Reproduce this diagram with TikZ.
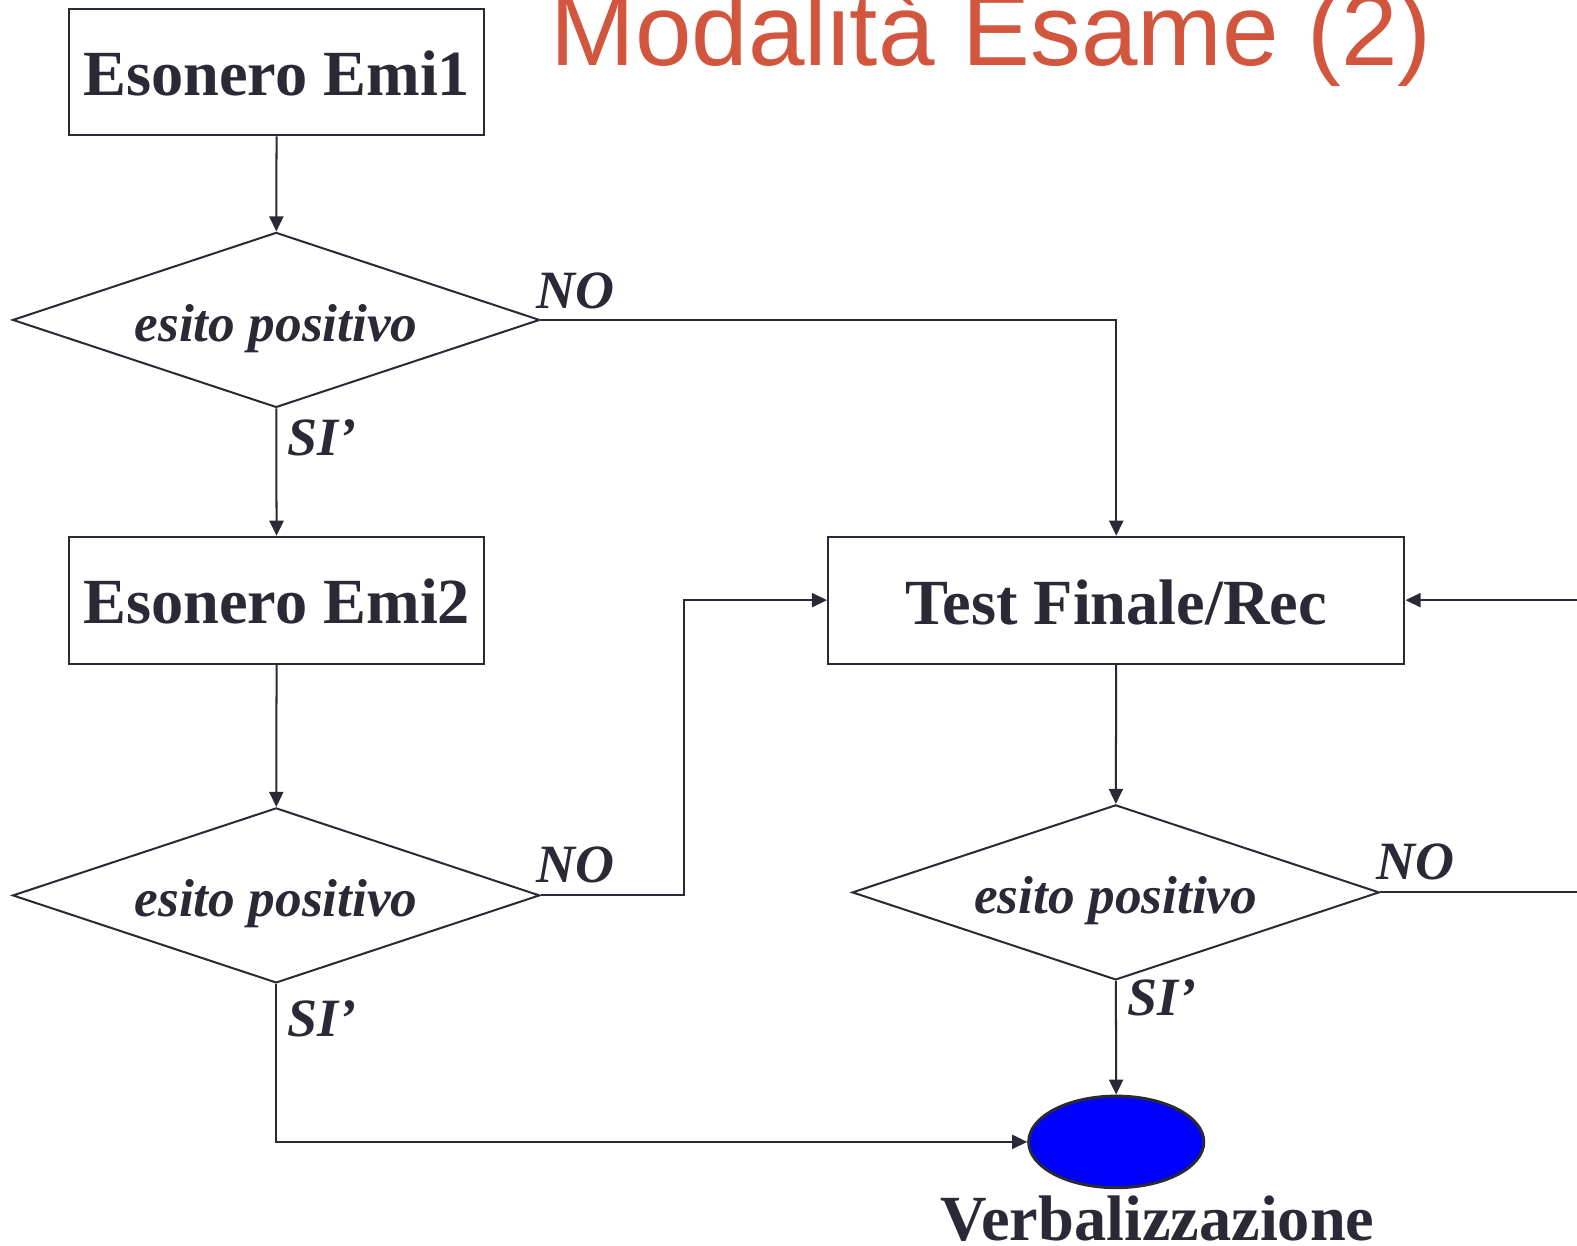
\documentclass[tikz,border=0pt]{standalone}
\usepackage{fontspec}
\setmainfont{Liberation Serif}
\newfontfamily\titlefont{Liberation Sans}
\usetikzlibrary{shapes.geometric,arrows.meta}
\definecolor{ink}{RGB}{42,42,54}
\definecolor{titlered}{RGB}{210,85,62}
\definecolor{dotblue}{RGB}{0,0,255}
\tikzset{
  procbox/.style={draw=ink, line width=1pt, minimum width=206pt, minimum height=63pt, inner sep=0pt,
    text height=23pt, text depth=0pt,
    text=ink, font=\fontsize{32}{36}\selectfont\bfseries},
  decision/.style={draw=ink, line width=1pt, shape=diamond, aspect=3.02, minimum width=262pt, minimum height=87pt,
    inner sep=0pt, text height=27pt, text depth=6pt,
    text=ink, font=\fontsize{26.5}{30}\selectfont\bfseries\itshape},
  branchlbl/.style={anchor=base west, inner sep=0pt, text=ink, font=\fontsize{26.8}{30}\selectfont\bfseries\itshape},
  arr/.style={draw=ink, line width=1pt, -{Triangle[length=7.5pt,width=7pt]}},
  plainline/.style={draw=ink, line width=1pt},
}
\begin{document}
\begin{tikzpicture}[x=0.5pt,y=-0.5pt]
\useasboundingbox (0,0) rectangle (1567.5,1237.5);
% title
\node[anchor=base west, inner sep=0pt, text=titlered, font=\fontsize{50.5}{60}\selectfont\titlefont] (title) at (547,65) {Modalità Esame (2)};
% nodes
\node[procbox] (b1) at (275,71.5) {Esonero Emi1};
\node[decision] (d1) at (274.5,318) {esito positivo};
\node[procbox] (b2) at (275,596.5) {Esonero Emi2};
\node[decision] (d2) at (274.5,890) {esito positivo};
\node[procbox, minimum width=286.5pt, text height=24pt] (tf) at (1109.5,596.5) {Test Finale/Rec};
\node[decision] (d3) at (1109,887) {esito positivo};
\node[draw=ink, line width=1.5pt, fill=dotblue, shape=ellipse, minimum width=87pt, minimum height=45.5pt, inner sep=0pt] (ver) at (1109.5,1135) {};
\node[anchor=base, inner sep=0pt, text=ink, font=\fontsize{32}{36}\selectfont\bfseries] (verlbl) at (1150.5,1233) {Verbalizzazione};
% branch labels
\node[branchlbl] (no1) at (533,307) {NO};
\node[branchlbl] (si1) at (285,453) {SI’};
\node[branchlbl] (no2) at (533,877) {NO};
\node[branchlbl] (si2) at (285,1030) {SI’};
\node[branchlbl] (no3) at (1368,874) {NO};
\node[branchlbl] (si3) at (1120,1009) {SI’};
% helper coordinates
\coordinate (k1) at (680,890);
\coordinate (e1) at (1590,887);
\coordinate (e2) at (1590,596.5);
% connectors
\draw[arr] (b1) -- (d1);
\draw[arr] (d1.east) -| (tf.north);
\draw[arr] (d1) -- (b2);
\draw[arr] (b2) -- (d2);
\draw[arr] (d2.east) -- (k1) |- (tf.west);
\draw[arr] (d2.south) |- (ver.west);
\draw[arr] (tf) -- (d3);
\draw[plainline] (d3.east) -- (e1);
\draw[arr] (e2) -- (tf.east);
\draw[arr] (d3) -- (ver);
\end{tikzpicture}
\end{document}
